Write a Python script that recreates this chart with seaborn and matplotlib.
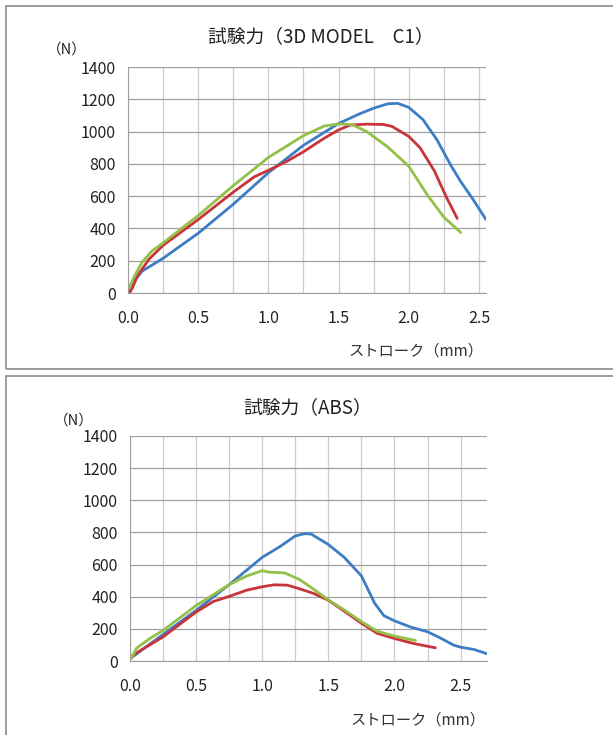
import numpy as np
import pandas as pd
import matplotlib
matplotlib.use("Agg")
import matplotlib.pyplot as plt
from matplotlib.patches import Rectangle
import seaborn as sns

# --- datos (carrera mm, fuerza N) ---
c1_blue_x = [0.01, 0.05, 0.1, 0.25, 0.5, 0.75, 1.0, 1.25, 1.5, 1.65, 1.75, 1.85, 1.92, 2.0, 2.1, 2.2, 2.3, 2.37, 2.45, 2.55]
c1_blue_y = [14, 80, 135, 215, 370, 550, 745, 915, 1050, 1110, 1145, 1172, 1175, 1150, 1075, 950, 790, 690, 590, 455]

c1_red_x = [0.01, 0.03, 0.07, 0.15, 0.25, 0.5, 0.75, 0.9, 1.0, 1.13, 1.25, 1.4, 1.5, 1.58, 1.7, 1.82, 1.88, 2.0, 2.08, 2.18, 2.27, 2.345]
c1_red_y = [0, 30, 110, 210, 295, 455, 625, 720, 760, 815, 875, 960, 1010, 1040, 1046, 1044, 1032, 970, 900, 760, 590, 462]

c1_green_x = [0.01, 0.04, 0.1, 0.17, 0.25, 0.5, 0.75, 1.0, 1.25, 1.4, 1.51, 1.6, 1.7, 1.85, 2.0, 2.13, 2.25, 2.37]
c1_green_y = [30, 95, 190, 260, 310, 480, 665, 840, 975, 1035, 1048, 1042, 1000, 905, 785, 610, 470, 375]

abs_blue_x = [0.01, 0.1, 0.25, 0.5, 0.75, 1.0, 1.14, 1.25, 1.32, 1.37, 1.5, 1.62, 1.75, 1.85, 1.92, 2.0, 2.12, 2.25, 2.35, 2.45, 2.5, 2.6, 2.7]
abs_blue_y = [20, 75, 165, 315, 475, 645, 715, 778, 792, 790, 725, 645, 530, 360, 282, 250, 212, 182, 142, 98, 86, 72, 45]

abs_red_x = [0.01, 0.08, 0.25, 0.5, 0.63, 0.75, 0.88, 1.0, 1.09, 1.19, 1.28, 1.39, 1.5, 1.62, 1.75, 1.87, 2.0, 2.15, 2.31]
abs_red_y = [28, 66, 150, 305, 370, 402, 440, 462, 474, 472, 450, 420, 378, 310, 235, 172, 140, 108, 82]

abs_green_x = [0.01, 0.05, 0.15, 0.25, 0.5, 0.75, 0.88, 1.0, 1.05, 1.17, 1.28, 1.38, 1.5, 1.62, 1.75, 1.87, 2.0, 2.16]
abs_green_y = [15, 80, 140, 190, 345, 475, 528, 562, 553, 548, 508, 452, 380, 318, 245, 185, 155, 128]

titulos = ["試験力（3D MODEL　C1）", "試験力（ABS）"]
y_ticks = [0, 200, 400, 600, 800, 1000, 1200, 1400]
x_ticks = [0.0, 0.5, 1.0, 1.5, 2.0, 2.5]

AZUL = "#3C7DC4"
ROJO = "#C9333A"
VERDE = "#93C047"

sns.set_style("white")
plt.rcParams['font.family'] = ['Noto Sans CJK JP', 'DejaVu Sans']

fig = plt.figure(figsize=(6.13, 7.35), dpi=100)

# marcos de cada panel
fig.patches.append(Rectangle((6 / 613, 1 - 369 / 735), 1.0, 363 / 735, transform=fig.transFigure,
                             fill=False, edgecolor="#8c8c8c", lw=1.2))
fig.patches.append(Rectangle((6 / 613, -0.01), 1.0, (735 - 376) / 735 + 0.01, transform=fig.transFigure,
                             fill=False, edgecolor="#8c8c8c", lw=1.2))

paneles = [
    dict(rect=[128 / 613, 1 - 293 / 735, 358 / 613, 226 / 735], xmax=2.55,
         series=[(c1_blue_x, c1_blue_y, AZUL), (c1_red_x, c1_red_y, ROJO), (c1_green_x, c1_green_y, VERDE)],
         title_pos=(321, 37), n_pos=(67, 50), mm_pos=(416, 351)),
    dict(rect=[130 / 613, 1 - 661 / 735, 357 / 613, 225 / 735], xmax=2.70,
         series=[(abs_blue_x, abs_blue_y, AZUL), (abs_red_x, abs_red_y, ROJO), (abs_green_x, abs_green_y, VERDE)],
         title_pos=(308, 408), n_pos=(74, 421), mm_pos=(418, 720)),
]

for p, titulo in zip(paneles, titulos):
    ax = fig.add_axes(p["rect"])
    for xs, ys, col in p["series"]:
        df = pd.DataFrame({"x": xs, "y": ys})
        sns.lineplot(data=df, x="x", y="y", ax=ax, color=col, lw=2.0, sort=False,
                     solid_capstyle="round", solid_joinstyle="round")
    ax.set_xlim(0, p["xmax"])
    ax.set_ylim(0, 1400)
    ax.set_yticks(y_ticks)
    ax.set_xticks(x_ticks)
    ax.set_xticklabels([f"{v:.1f}" for v in x_ticks])
    ax.set_xticks(np.arange(0.25, p["xmax"], 0.5), minor=True)
    ax.grid(axis="y", which="major", color="#a0a0a0", lw=0.9)
    ax.grid(axis="x", which="both", color="#cdcdcd", lw=0.9)
    ax.set_axisbelow(True)
    for s in ["top", "right"]:
        ax.spines[s].set_visible(False)
    ax.spines["left"].set_color("#a0a0a0")
    ax.spines["bottom"].set_color("#a0a0a0")
    ax.tick_params(axis="y", length=6, width=0.9, color="#a0a0a0", pad=3, labelsize=11.5, labelcolor="#222222")
    ax.tick_params(axis="x", which="both", length=0, pad=12, labelsize=11.5, labelcolor="#222222")
    ax.set_xlabel("")
    ax.set_ylabel("")

    fig.text(p["title_pos"][0] / 613, 1 - p["title_pos"][1] / 735, titulo, ha="center", va="center",
             fontsize=13.5, color="#222222")
    fig.text(p["n_pos"][0] / 613, 1 - p["n_pos"][1] / 735, "（N）", ha="center", va="center", fontsize=10.5, color="#222222")
    fig.text(p["mm_pos"][0] / 613, 1 - p["mm_pos"][1] / 735, "ストローク（mm）", ha="center", va="center",
             fontsize=11, color="#333333")

fig.savefig("out.png", dpi=100)
